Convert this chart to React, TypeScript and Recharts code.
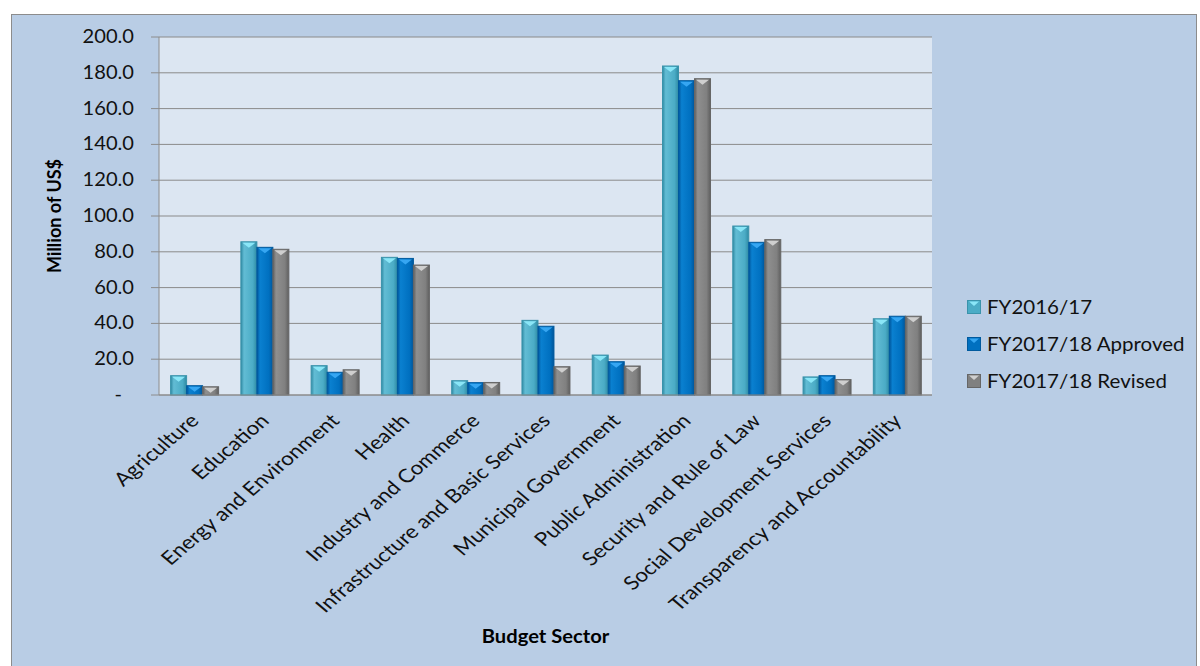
import React from 'react'
import { BarChart, Bar, XAxis, YAxis, CartesianGrid } from 'recharts'

// Budget by sector, million US$
const sectors = [
  'Agriculture',
  'Education',
  'Energy and Environment',
  'Health',
  'Industry and Commerce',
  'Infrastructure and Basic Services',
  'Municipal Government',
  'Public Administration',
  'Security and Rule of Law',
  'Social Development Services',
  'Transparency and Accountability',
]
const fy1617 = [10.8, 85.6, 16.4, 76.9, 8.0, 41.7, 22.3, 183.8, 94.4, 10.1, 42.6]
const fy1718Approved = [5.2, 82.5, 12.7, 76.3, 6.9, 38.4, 18.6, 175.6, 85.3, 10.8, 44.0]
const fy1718Revised = [4.6, 81.4, 14.1, 72.6, 7.0, 15.8, 16.2, 176.7, 86.8, 8.6, 44.0]
const yTicks = [0, 20, 40, 60, 80, 100, 120, 140, 160, 180, 200]

const seriesNames = ['FY2016/17', 'FY2017/18 Approved', 'FY2017/18 Revised']

const data = sectors.map((s, i) => ({
  sector: s,
  a: fy1617[i],
  b: fy1718Approved[i],
  c: fy1718Revised[i],
}))

const FONT = 'Lato, "Open Sans", sans-serif'

const palette = [
  { key: 'a', id: 'gA', base: '#4bacc6', dark: '#2f8aa3', light: '#62bcd4', top: '#8ae6f7', edge: '#3a93ab' },
  { key: 'b', id: 'gB', base: '#0070c0', dark: '#00559a', light: '#0a80d0', top: '#36a6f2', edge: '#005a9e' },
  { key: 'c', id: 'gC', base: '#808080', dark: '#5f5f5f', light: '#8f8f8f', top: '#cfcfcf', edge: '#666666' },
]

const makeShape = (p: typeof palette[number]) => (props: any) => {
  const { x, y, width, height } = props
  if (!height || height <= 0) return <g />
  const tri = Math.min(5, height)
  return (
    <g>
      <rect x={x} y={y} width={width} height={height} fill={`url(#${p.id})`} stroke={p.edge} strokeWidth={1} />
      <polygon
        points={`${x + 1.5},${y + 1} ${x + width - 1.5},${y + 1} ${x + width / 2},${y + tri + 1}`}
        fill={p.top}
      />
    </g>
  )
}

// the source picture is stretched sideways a little; text is scaled to match
const YTick = ({ x, y, payload }: any) => {
  const tx = payload.value === 0 ? x - 27 : x - 15
  return (
    <text
      x={0}
      y={0}
      dy={6}
      transform={`translate(${tx} ${y}) scale(1.06 1)`}
      textAnchor="end"
      fontFamily={FONT}
      fontSize={19}
      fill="#111"
    >
      {payload.value === 0 ? '-' : payload.value.toFixed(1)}
    </text>
  )
}

const XTick = ({ x, y, payload }: any) => {
  const ax = x + 6
  const ay = y + 19
  return (
    <text
      x={0}
      y={0}
      transform={`translate(${ax} ${ay}) scale(1.18 1) rotate(-45)`}
      textAnchor="end"
      fontFamily={FONT}
      fontSize={19}
      fill="#111"
    >
      {payload.value}
    </text>
  )
}

const YTitle = (props: any) => {
  const vb = props.viewBox || {}
  const cx = vb.x + 35
  const cy = vb.y + vb.height / 2
  return (
    <text
      x={cx}
      y={cy}
      transform={`rotate(-90 ${cx} ${cy})`}
      textAnchor="middle"
      dominantBaseline="central"
      fontFamily={FONT}
      fontWeight="bold"
      fontSize={18}
      fill="#000"
    >
      Million of US$
    </text>
  )
}

const XTitle = (props: any) => {
  const vb = props.viewBox || {}
  const cx = vb.x + vb.width / 2
  const cy = vb.y + vb.height - 14
  return (
    <text
      x={0}
      y={0}
      transform={`translate(${cx} ${cy}) scale(1.12 1)`}
      textAnchor="middle"
      dominantBaseline="central"
      fontFamily={FONT}
      fontWeight="bold"
      fontSize={18}
      fill="#000"
    >
      Budget Sector
    </text>
  )
}

const LegendBox = () => (
  <div style={{ position: 'absolute', left: 967, top: 288, fontFamily: FONT, fontSize: 19, color: '#111' }}>
    {palette.map((p, i) => (
      <div key={p.key} style={{ display: 'flex', alignItems: 'center', height: 37 }}>
        <svg width={14} height={14} style={{ marginRight: 6 }}>
          <rect x={0.5} y={0.5} width={13} height={13} fill={p.base} stroke={p.edge} />
          <polygon points="2,1.5 12,1.5 7,6" fill={p.top} />
        </svg>
        <span style={{ display: 'inline-block', transform: 'scaleX(1.08)', transformOrigin: 'left center', whiteSpace: 'nowrap' }}>
          {seriesNames[i]}
        </span>
      </div>
    ))}
  </div>
)

export default function App() {
  return (
    <div style={{ position: 'fixed', left: 0, top: 0, width: 1200, height: 666, background: '#ffffff', overflow: 'hidden' }}>
      <div
        style={{
          position: 'absolute',
          left: 11,
          top: 14,
          width: 1184,
          height: 660,
          background: '#b9cde5',
          border: '1.5px solid #8c8c8c',
        }}
      />
      <div style={{ position: 'absolute', left: 0, top: 0 }}>
        <BarChart
          width={1200}
          height={666}
          data={data}
          margin={{ top: 37, right: 268, bottom: 16, left: 19 }}
          barCategoryGap="16.5%"
          barGap={0}
        >
          <defs>
            {palette.map((p) => (
              <linearGradient key={p.id} id={p.id} x1="0" y1="0" x2="1" y2="0">
                <stop offset="0%" stopColor={p.dark} />
                <stop offset="20%" stopColor={p.light} />
                <stop offset="75%" stopColor={p.base} />
                <stop offset="100%" stopColor={p.dark} />
              </linearGradient>
            ))}
          </defs>
          <CartesianGrid vertical={false} stroke="#8a8a8a" fill="#dce6f2" />
          <XAxis
            dataKey="sector"
            interval={0}
            height={255}
            tickLine={false}
            axisLine={{ stroke: '#8c8c8c' }}
            tick={<XTick />}
            label={<XTitle />}
          />
          <YAxis
            domain={[0, 200]}
            ticks={yTicks}
            width={140}
            tickSize={8}
            tickLine={{ stroke: '#8c8c8c' }}
            axisLine={{ stroke: '#8c8c8c' }}
            tick={<YTick />}
            label={<YTitle />}
          />
          {palette.map((p, i) => (
            <Bar
              key={p.key}
              dataKey={p.key}
              name={seriesNames[i]}
              fill={p.base}
              shape={makeShape(p)}
              isAnimationActive={false}
            />
          ))}
        </BarChart>
      </div>
      <LegendBox />
    </div>
  )
}
